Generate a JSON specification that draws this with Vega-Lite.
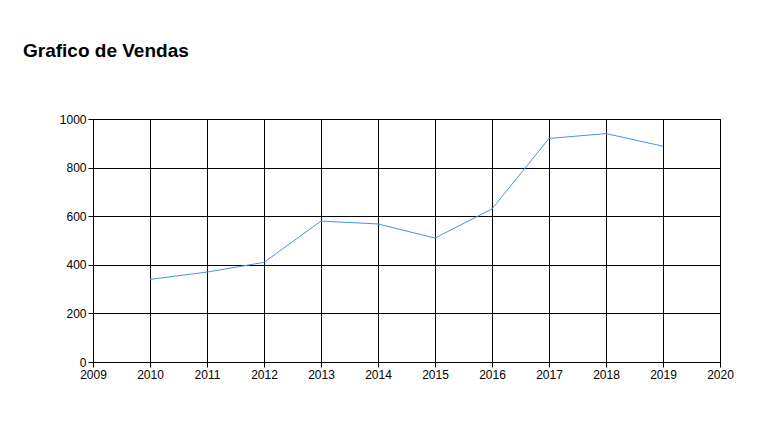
{
  "$schema": "https://vega.github.io/schema/vega-lite/v6.json",
  "autosize": {"type": "none"},
  "width": 627,
  "height": 243,
  "padding": {"left": 93, "top": 119, "right": 62, "bottom": 64},
  "background": "#ffffff",
  "title": {
    "text": "Grafico de Vendas",
    "anchor": "start",
    "frame": "group",
    "dx": -70,
    "offset": 52,
    "font": "Liberation Sans",
    "fontSize": 19,
    "fontWeight": "bold",
    "color": "#000000"
  },
  "data": {
    "values": [
      {"Ano": 2010, "Vendas": 340},
      {"Ano": 2011, "Vendas": 370},
      {"Ano": 2012, "Vendas": 410},
      {"Ano": 2013, "Vendas": 580},
      {"Ano": 2014, "Vendas": 568},
      {"Ano": 2015, "Vendas": 510},
      {"Ano": 2016, "Vendas": 630},
      {"Ano": 2017, "Vendas": 920},
      {"Ano": 2018, "Vendas": 940},
      {"Ano": 2019, "Vendas": 888}
    ]
  },
  "mark": {"type": "line", "color": "#4a8ff0", "strokeWidth": 1},
  "encoding": {
    "x": {
      "field": "Ano",
      "type": "quantitative",
      "title": null,
      "scale": {"domain": [2009, 2020], "nice": false, "zero": false},
      "axis": {"values": [2009, 2010, 2011, 2012, 2013, 2014, 2015, 2016, 2017, 2018, 2019, 2020], "format": "d", "labelFlush": false, "labelOverlap": false}
    },
    "y": {
      "field": "Vendas",
      "type": "quantitative",
      "title": null,
      "scale": {"domain": [0, 1000], "nice": false},
      "axis": {"values": [0, 200, 400, 600, 800, 1000], "format": "d", "labelFlush": false}
    }
  },
  "config": {
    "view": {"stroke": "#000000", "strokeWidth": 1},
    "axis": {
      "gridColor": "#000000",
      "gridOpacity": 1,
      "domainColor": "#000000",
      "tickColor": "#000000",
      "tickSize": 5,
      "labelColor": "#000000",
      "labelFont": "Liberation Sans",
      "labelFontSize": 12,
      "labelPadding": 2
    }
  }
}
